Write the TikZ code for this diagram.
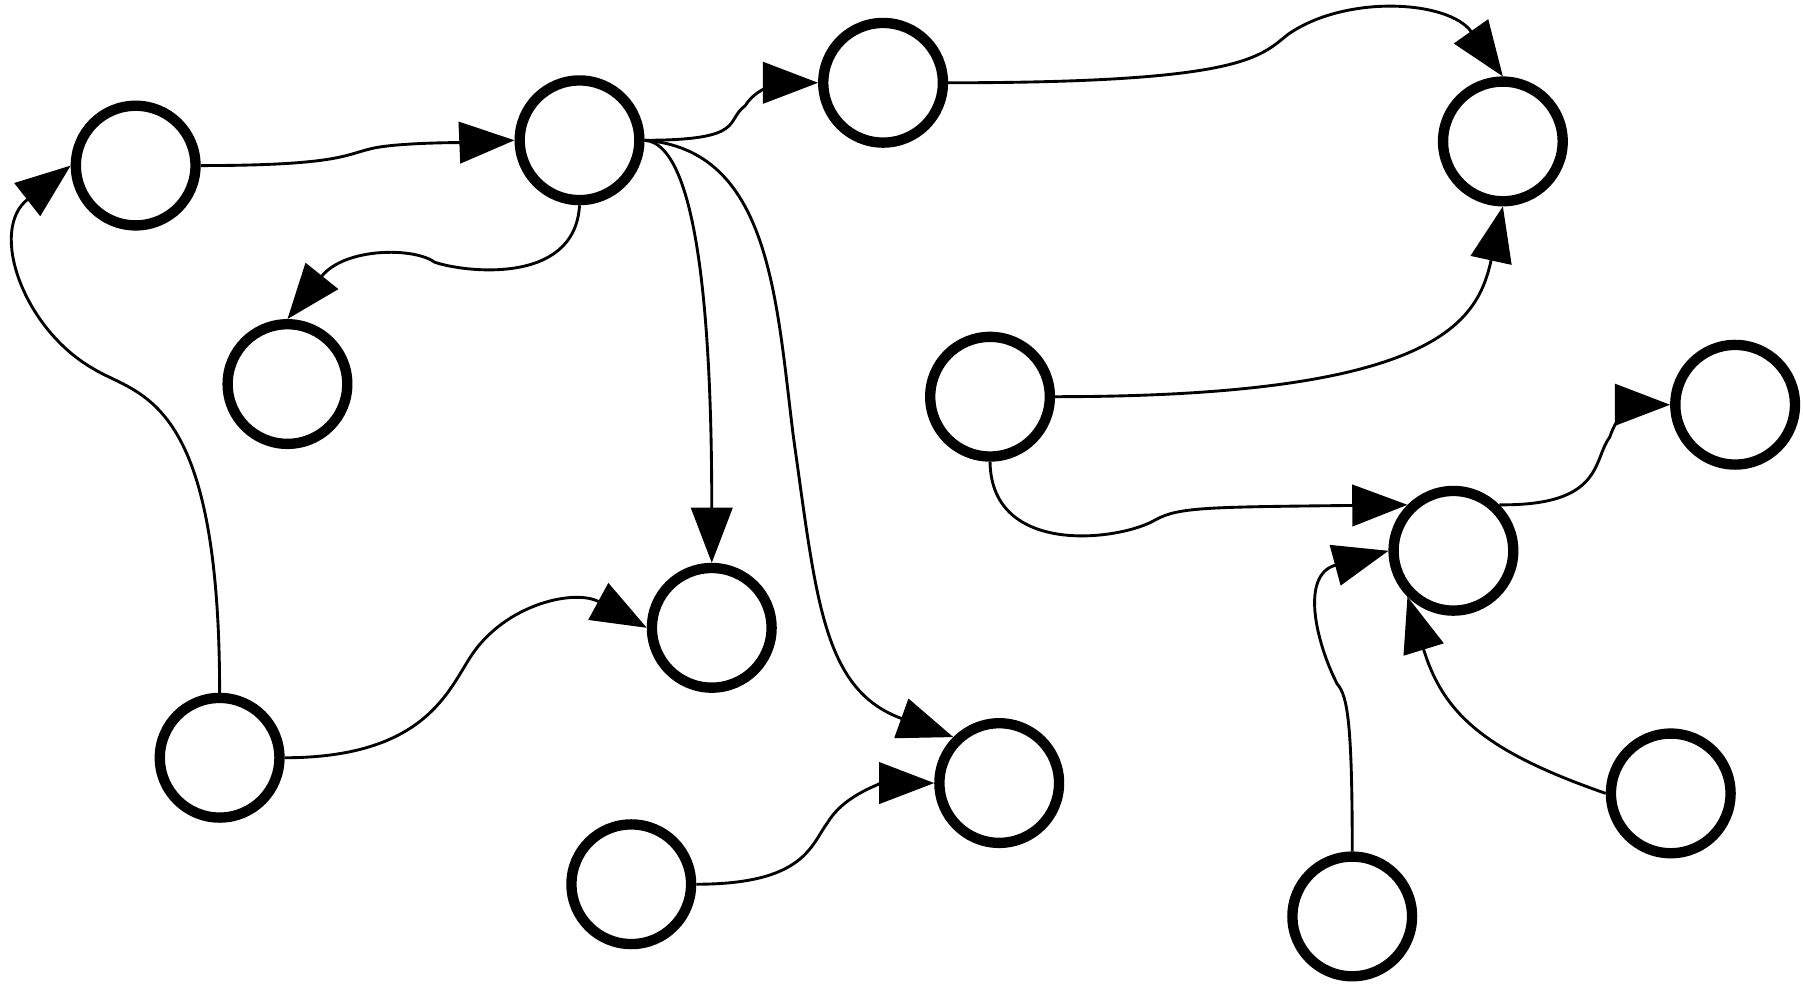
\documentclass[tikz,border=0pt]{standalone}
\usetikzlibrary{arrows.meta}
\begin{document}
\begin{tikzpicture}[x=0.01cm,y=-0.01cm,
  nd/.style={circle,draw,line width=0.09cm,minimum size=1.04cm,inner sep=0pt},
  ed/.style={line width=0.025cm,-{Triangle[length=0.48cm,width=0.36cm]}}]
\useasboundingbox (0,0) rectangle (1568,855);
\node[nd] (A) at (118,144) {};
\node[nd] (B) at (504,122) {};
\node[nd] (C) at (768,72) {};
\node[nd] (D) at (1307,123) {};
\node[nd] (E) at (250,334) {};
\node[nd] (F) at (861,345) {};
\node[nd] (G) at (1509,352) {};
\node[nd] (H) at (1264,479) {};
\node[nd] (I) at (619,546) {};
\node[nd] (J) at (191,659) {};
\node[nd] (K) at (869,681) {};
\node[nd] (L) at (549,769) {};
\node[nd] (M) at (1176,797) {};
\node[nd] (N) at (1453,690) {};
\coordinate (c1) at (320,130);
\draw[ed] (A.east) .. controls (290,144) and (300,135) .. (c1) .. controls (340,124) and (400,124) .. (B.west);
\coordinate (c2) at (80,320);
\draw[ed] (J.north) .. controls (191,340) and (120,345) .. (c2) .. controls (20,285) and (-10,200) .. (A.west);
\coordinate (c3) at (378,228);
\draw[ed] (B.south) .. controls (500,250) and (400,236) .. (c3) .. controls (360,215) and (300,215) .. (E.north);
\coordinate (c4) at (648,92);
\draw[ed] (B.east) .. controls (650,122) and (630,105) .. (c4) .. controls (660,72) and (690,72) .. (C.west);
\draw[ed] (B.east) .. controls (610,125) and (619,300) .. (I.north);
\coordinate (c5) at (690,380);
\draw[ed] (B.east) .. controls (670,130) and (675,260) .. (c5) .. controls (710,520) and (715,600) .. (K.north west);
\coordinate (c6) at (1120,30);
\draw[ed] (C.east) .. controls (1080,72) and (1095,50) .. (c6) .. controls (1170,-5) and (1260,0) .. (D.north);
\draw[ed] (F.east) .. controls (1250,345) and (1285,280) .. (D.south);
\coordinate (c7) at (1005,452);
\draw[ed] (F.south) .. controls (862,485) and (975,470) .. (c7) .. controls (1025,441) and (1050,441) .. (H.north west);
\coordinate (c8) at (1400,380);
\draw[ed] (H.north east) .. controls (1395,440) and (1385,400) .. (c8) .. controls (1410,350) and (1430,352) .. (G.west);
\coordinate (c9) at (1163,595);
\draw[ed] (M.north) .. controls (1176,630) and (1172,605) .. (c9) .. controls (1145,560) and (1130,500) .. (H.west);
\draw[ed] (N.west) .. controls (1290,653) and (1255,620) .. (H.south west);
\coordinate (c10) at (410,570);
\draw[ed] (J.east) .. controls (370,659) and (390,600) .. (c10) .. controls (440,525) and (500,512) .. (I.west);
\coordinate (c11) at (720,715);
\draw[ed] (L.east) .. controls (700,769) and (705,735) .. (c11) .. controls (735,690) and (770,681) .. (K.west);
\end{tikzpicture}
\end{document}
